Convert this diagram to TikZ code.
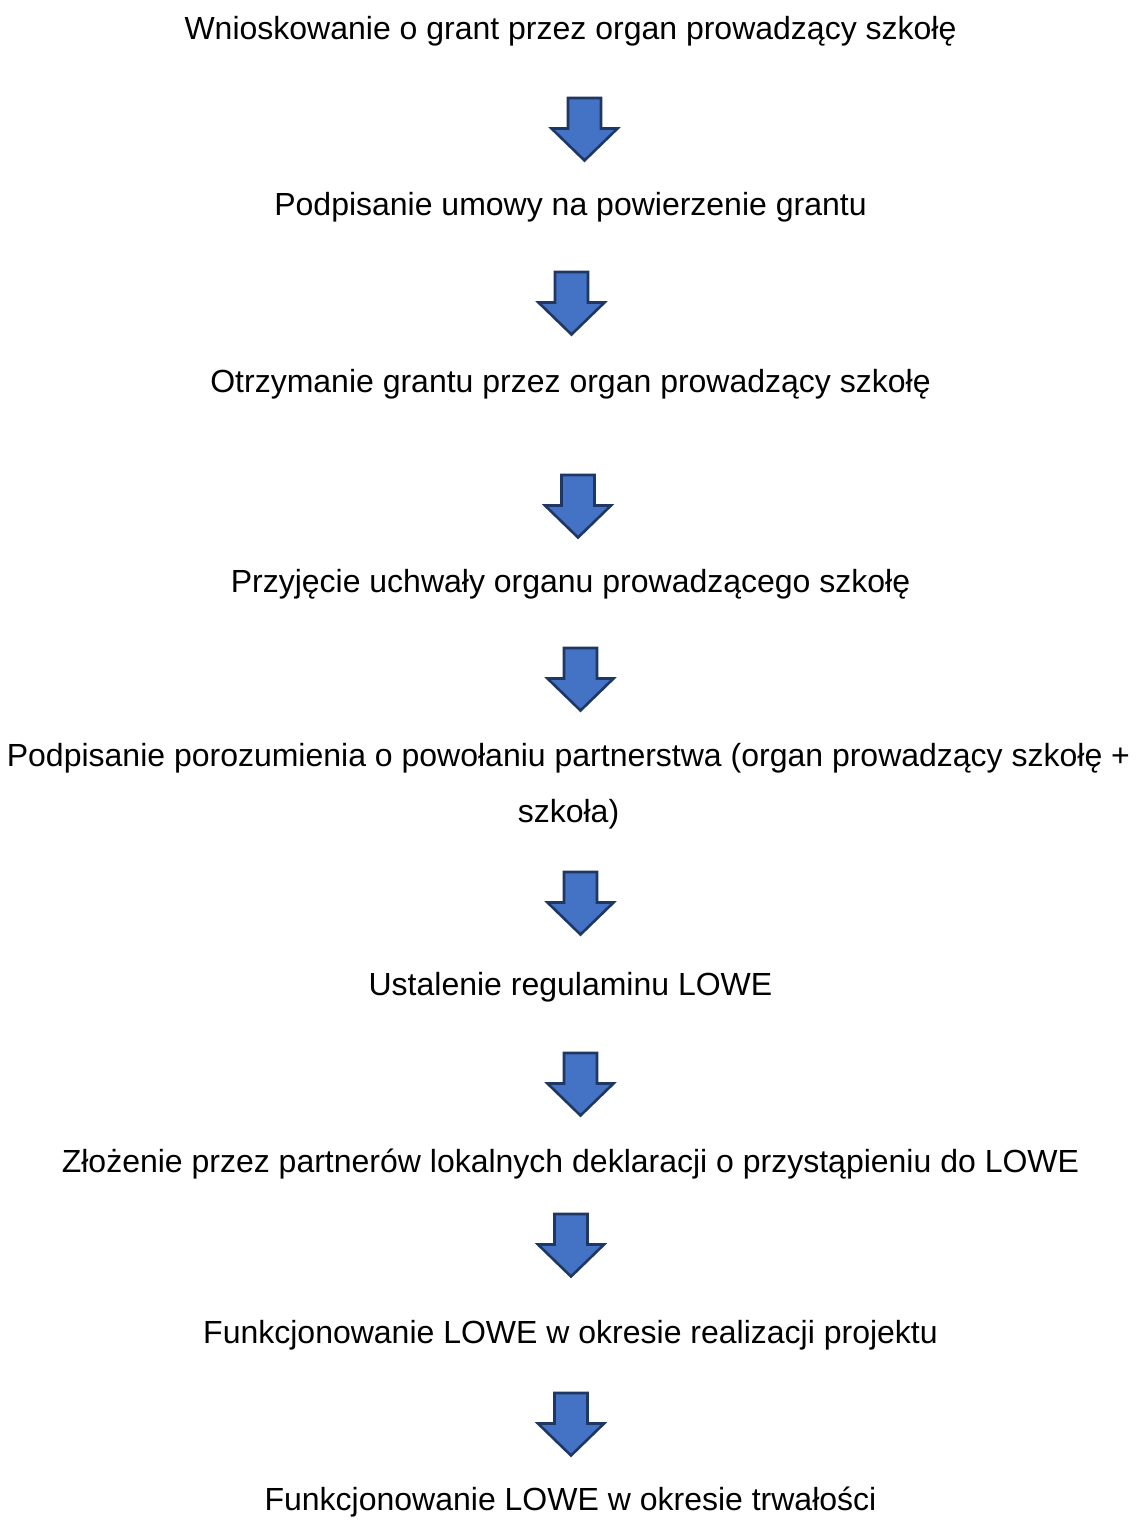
\documentclass[tikz,border=0pt]{standalone}
\usepackage{fontspec}
\setmainfont{Liberation Sans}
\definecolor{arrowfill}{HTML}{4472C4}
\definecolor{arrowline}{HTML}{1F3763}
\begin{document}
\begin{tikzpicture}[x=1pt,y=-1pt,
  steptext/.style={anchor=base,inner sep=0pt,font=\fontsize{32}{55.2}\selectfont,align=center},
  blockarrow/.style={fill=arrowfill,draw=arrowline,line width=2.6pt,line join=miter}]
\useasboundingbox (0,0) rectangle (1135,1523);
% texts
\node[steptext] (t1) at (570.5,39) {Wnioskowanie o grant przez organ prowadzący szkołę};
\node[steptext] (t2) at (570.5,215) {Podpisanie umowy na powierzenie grantu};
\node[steptext] (t3) at (570.5,392) {Otrzymanie grantu przez organ prowadzący szkołę};
\node[steptext] (t4) at (570.5,592) {Przyjęcie uchwały organu prowadzącego szkołę};
\node[steptext] (t5) at (568.5,822) {Podpisanie porozumienia o powołaniu partnerstwa (organ prowadzący szkołę +\\szkoła)};
\node[steptext] (t6) at (570.5,995) {Ustalenie regulaminu LOWE};
\node[steptext] (t7) at (570.5,1172) {Złożenie przez partnerów lokalnych deklaracji o przystąpieniu do LOWE};
\node[steptext] (t8) at (570.5,1343) {Funkcjonowanie LOWE w okresie realizacji projektu};
\node[steptext] (t9) at (570.5,1510) {Funkcjonowanie LOWE w okresie trwałości};
% block arrows (top centre coordinates)
\coordinate (a1) at (584.5,98);
\coordinate (a2) at (571.5,272);
\coordinate (a3) at (578,475);
\coordinate (a4) at (580.5,648);
\coordinate (a5) at (580.5,872);
\coordinate (a6) at (580.5,1053);
\coordinate (a7) at (571,1214);
\coordinate (a8) at (571,1393);
\foreach \a in {a1,a2,a3,a4,a5,a6,a7,a8}{
  \draw[blockarrow] (\a) ++(-16.5,0) -- ++(33,0) -- ++(0,30.5) -- ++(16.5,0)
     -- ++(-33,32) -- ++(-33,-32) -- ++(16.5,0) -- cycle;
}
\end{tikzpicture}
\end{document}
